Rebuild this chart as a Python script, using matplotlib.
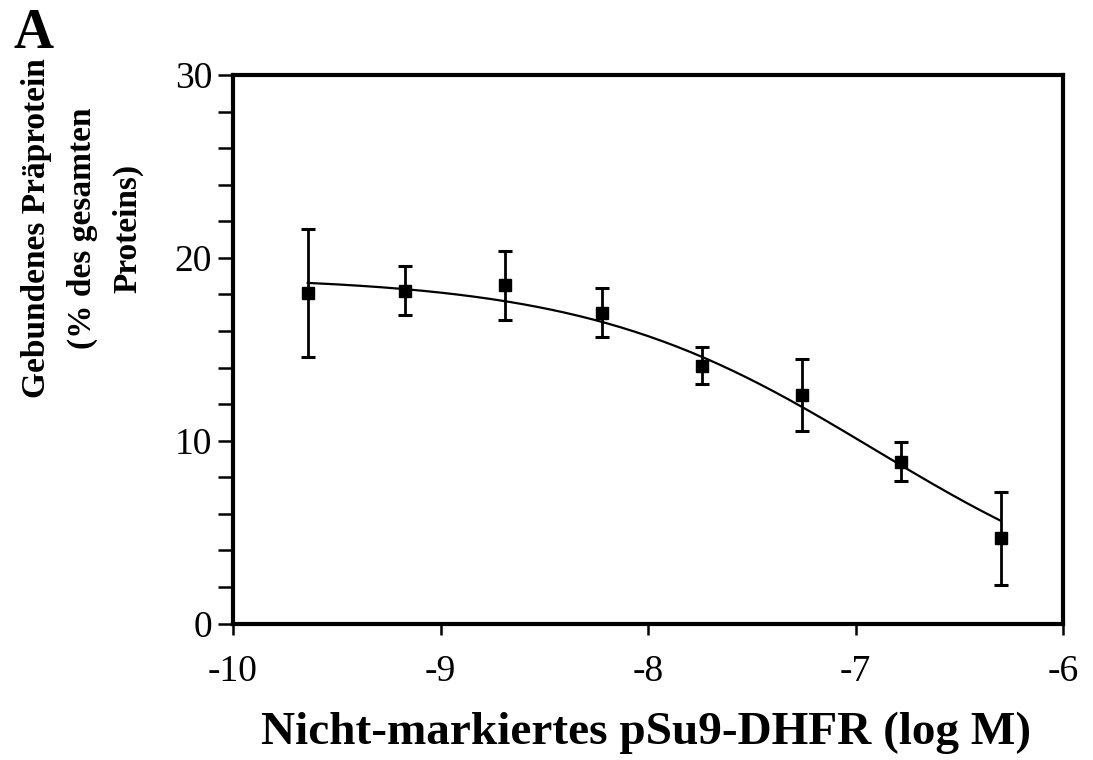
import numpy as np
import matplotlib
matplotlib.use("Agg")
import matplotlib.pyplot as plt

# log concentration of unlabelled pSu9-DHFR
log_conc = [-9.64, -9.17, -8.69, -8.22, -7.74, -7.26, -6.78, -6.30]
# bound preprotein (% of total) and error
bound = [18.1, 18.2, 18.5, 17.0, 14.1, 12.5, 8.85, 4.65]
bound_err = [3.5, 1.35, 1.9, 1.35, 1.0, 1.95, 1.08, 2.55]

# fitted competition curve (top, bottom, logIC50, hill slope)
fit_top = 19.0
fit_bottom = 0.0
fit_logic50 = -6.906
fit_hill = 0.622

plt.rcParams['font.family'] = ['Liberation Serif', 'DejaVu Serif']
plt.rcParams['axes.unicode_minus'] = False

fig = plt.figure(figsize=(10.93, 7.6), dpi=100)
ax = fig.add_axes([0.2132, 0.1796, 0.7594, 0.7217])

xc = np.linspace(log_conc[0], log_conc[-1], 200)
yc = fit_bottom + (fit_top - fit_bottom) / (1 + 10 ** (fit_hill * (xc - fit_logic50)))
ax.plot(xc, yc, color="black", lw=1.6)

ax.errorbar(log_conc, bound, yerr=bound_err, fmt="s", color="black",
            ms=9, elinewidth=2, capsize=5, capthick=2.2)

ax.set_xlim(-10, -6)
ax.set_ylim(0, 30)
ax.set_xticks([-10, -9, -8, -7, -6])
ax.set_yticks([0, 10, 20, 30])
ax.set_yticks(np.arange(0, 31, 2), minor=True)
for s in ax.spines.values():
    s.set_linewidth(3)
ax.tick_params(axis="x", which="major", direction="out", length=8, width=1.8,
               labelsize=27, pad=14)
ax.tick_params(axis="y", which="both", direction="out", length=11, width=1.8,
               labelsize=27, pad=4)
ax.tick_params(axis="x", which="minor", length=0)

fig.text(646 / 1093, 1 - 733 / 760, "Nicht-markiertes pSu9-DHFR (log M)",
         ha="center", va="center", fontsize=34, fontweight="bold")
fig.text(82 / 1093, 1 - 228 / 760, "Gebundenes Präprotein\n(% des gesamten\nProteins)",
         ha="center", va="center", rotation=90, fontsize=24, fontweight="bold",
         multialignment="center", linespacing=1.6)
fig.text(13 / 1093, 1 - 8 / 760, "A", ha="left", va="top",
         fontsize=40, fontweight="bold")

fig.savefig("out.png", dpi=100)
